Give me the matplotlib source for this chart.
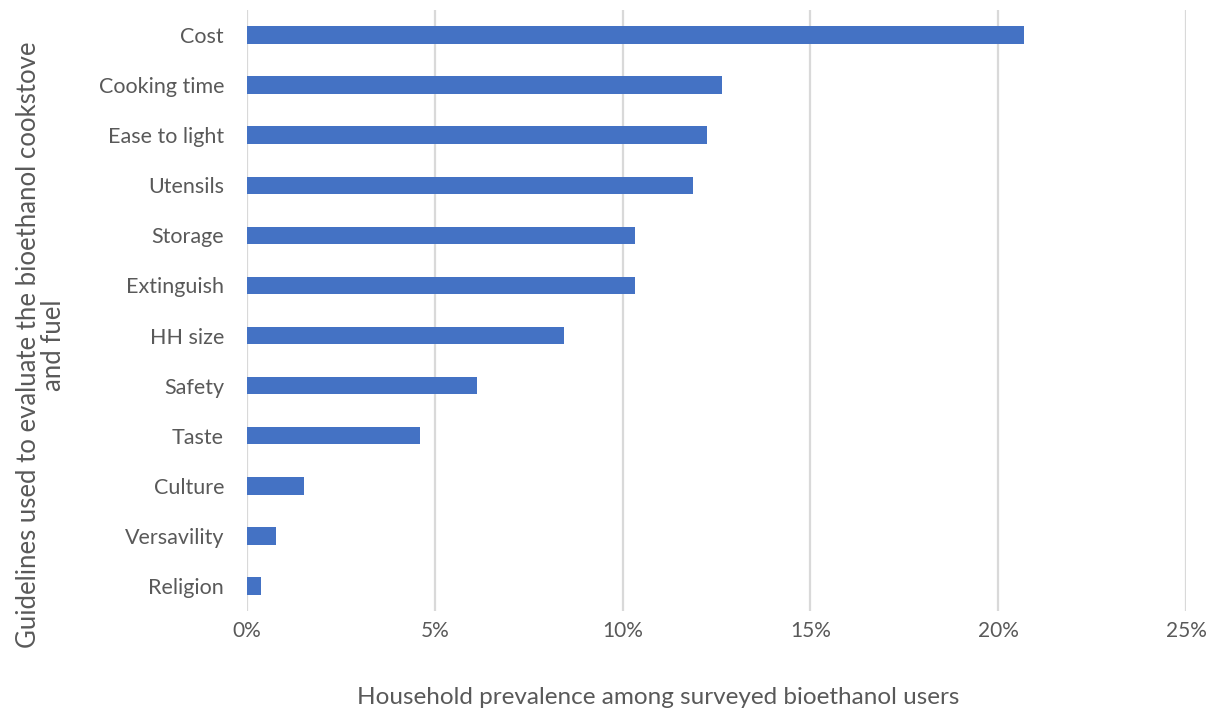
import matplotlib
matplotlib.use("Agg")
import matplotlib.pyplot as plt
from matplotlib.ticker import PercentFormatter

categories = ["Cost", "Cooking time", "Ease to light", "Utensils", "Storage",
              "Extinguish", "HH size", "Safety", "Taste", "Culture",
              "Versavility", "Religion"]
values = [20.69, 12.64, 12.26, 11.88, 10.34, 10.34, 8.43, 6.13, 4.60, 1.53, 0.77, 0.38]
xticks = [0, 5, 10, 15, 20, 25]

plt.rcParams['font.family'] = ['Lato', 'DejaVu Sans']
gray = '#595959'

fig = plt.figure(figsize=(12.24, 7.11), dpi=100)
ax = fig.add_axes([247/1224, 1-611/711, (1186-247)/1224, (611-10)/711])

y = list(range(len(categories)))
ax.barh(y, values, height=0.35, color='#4472C4', zorder=3)
ax.set_yticks(y)
ax.set_yticklabels(categories, fontsize=15.5, color=gray)
ax.set_ylim(len(categories)-0.5, -0.5)
ax.set_xlim(0, 25)
ax.set_xticks(xticks)
ax.xaxis.set_major_formatter(PercentFormatter(decimals=0))
ax.tick_params(axis='x', labelsize=15, colors=gray, length=0, pad=7)
ax.tick_params(axis='y', length=0, pad=16.5)
ax.grid(axis='x', color='#d9d9d9', linewidth=1.6, zorder=0)
for s in ax.spines.values():
    s.set_visible(False)

fig.text(41/1224, 1-345/711,
         "Guidelines used to evaluate the bioethanol cookstove\nand fuel",
         rotation=90, ha='center', va='center', multialignment='center',
         fontsize=18.5, color=gray, linespacing=1.0)
fig.text(658/1224, 1-697/711, "Household prevalence among surveyed bioethanol users",
         ha='center', va='center', fontsize=17.5, color=gray)

fig.savefig("out.png", dpi=100)
